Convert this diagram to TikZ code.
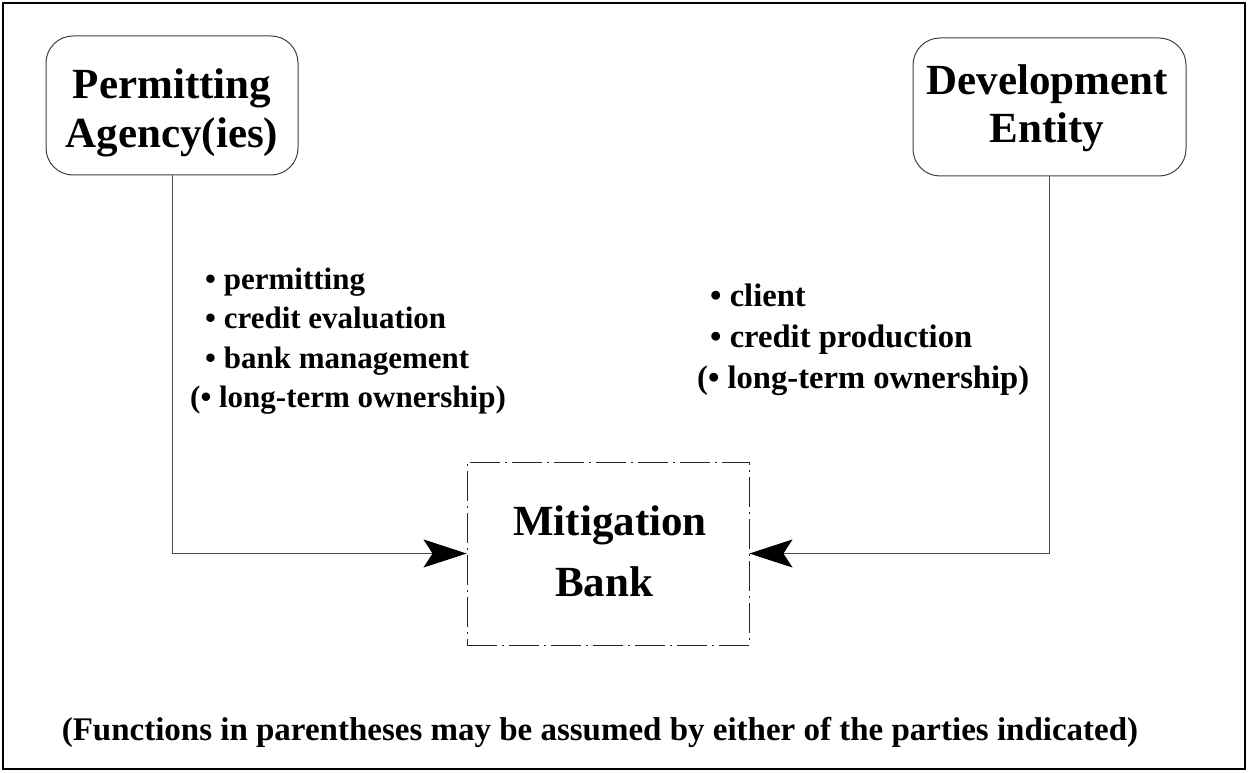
\documentclass[tikz,border=0pt]{standalone}
\usepackage{fontspec}
\setmainfont{Liberation Serif}
\usetikzlibrary{arrows.meta}
\begin{document}
\begin{tikzpicture}[x=1pt,y=-1pt,
  partybox/.style={draw=black!75, line width=1pt, rounded corners=27pt, inner sep=0pt},
  bankbox/.style={draw=black!85, line width=0.9pt, dash pattern=on 30pt off 5pt on 2pt off 5pt, inner sep=0pt},
  titleline/.style={font=\fontsize{43}{48}\selectfont\bfseries, inner sep=0pt, anchor=base},
  leftline/.style={font=\fontsize{31}{39}\selectfont\bfseries, inner sep=0pt, anchor=base west},
  rightline/.style={font=\fontsize{32.6}{40}\selectfont\bfseries, inner sep=0pt, anchor=base west},
  noteline/.style={font=\fontsize{33}{38}\selectfont\bfseries, inner sep=0pt, anchor=base},
  link/.style={draw=black!70, line width=1pt, -{Stealth[length=43pt,width=28pt,inset=9pt,black]}}
]
\useasboundingbox (0,0) rectangle (1248,773);
\draw[line width=2pt] (3,3) rectangle (1245,769);

% boxes
\node[partybox, minimum width=252pt, minimum height=139pt] (perm) at (172,105.5) {};
\node[partybox, minimum width=273pt, minimum height=138pt] (dev) at (1049.5,107) {};
\node[bankbox, minimum width=282pt, minimum height=183pt] (bank) at (608,553.5) {};

% box texts
\node[titleline] (perm1) at (172,99) {Permitting};
\node[titleline] (perm2) at (172,148) {Agency(ies)};
\node[titleline] (dev1) at (1047,95) {Development};
\node[titleline] (dev2) at (1047,143) {Entity};
\node[titleline] (bank1) at (610,535) {Mitigation};
\node[titleline] (bank2) at (604,596) {Bank};

% function lists
\node[leftline] (l1) at (205,289) {• permitting};
\node[leftline] (l2) at (205,328.5) {• credit evaluation};
\node[leftline] (l3) at (205,368) {• bank management};
\node[leftline] (l4) at (190,407.5) {(• long-term ownership)};
\node[rightline] (r1) at (710,306) {• client};
\node[rightline] (r2) at (710,347) {• credit production};
\node[rightline] (r3) at (697,388) {(• long-term ownership)};

% connectors
\draw[link] (perm.south) |- (bank.west);
\draw[link] (dev.south) |- (bank.east);

% note
\node[noteline] (note) at (600,740) {(Functions in parentheses may be assumed by either of the parties indicated)};
\end{tikzpicture}
\end{document}
